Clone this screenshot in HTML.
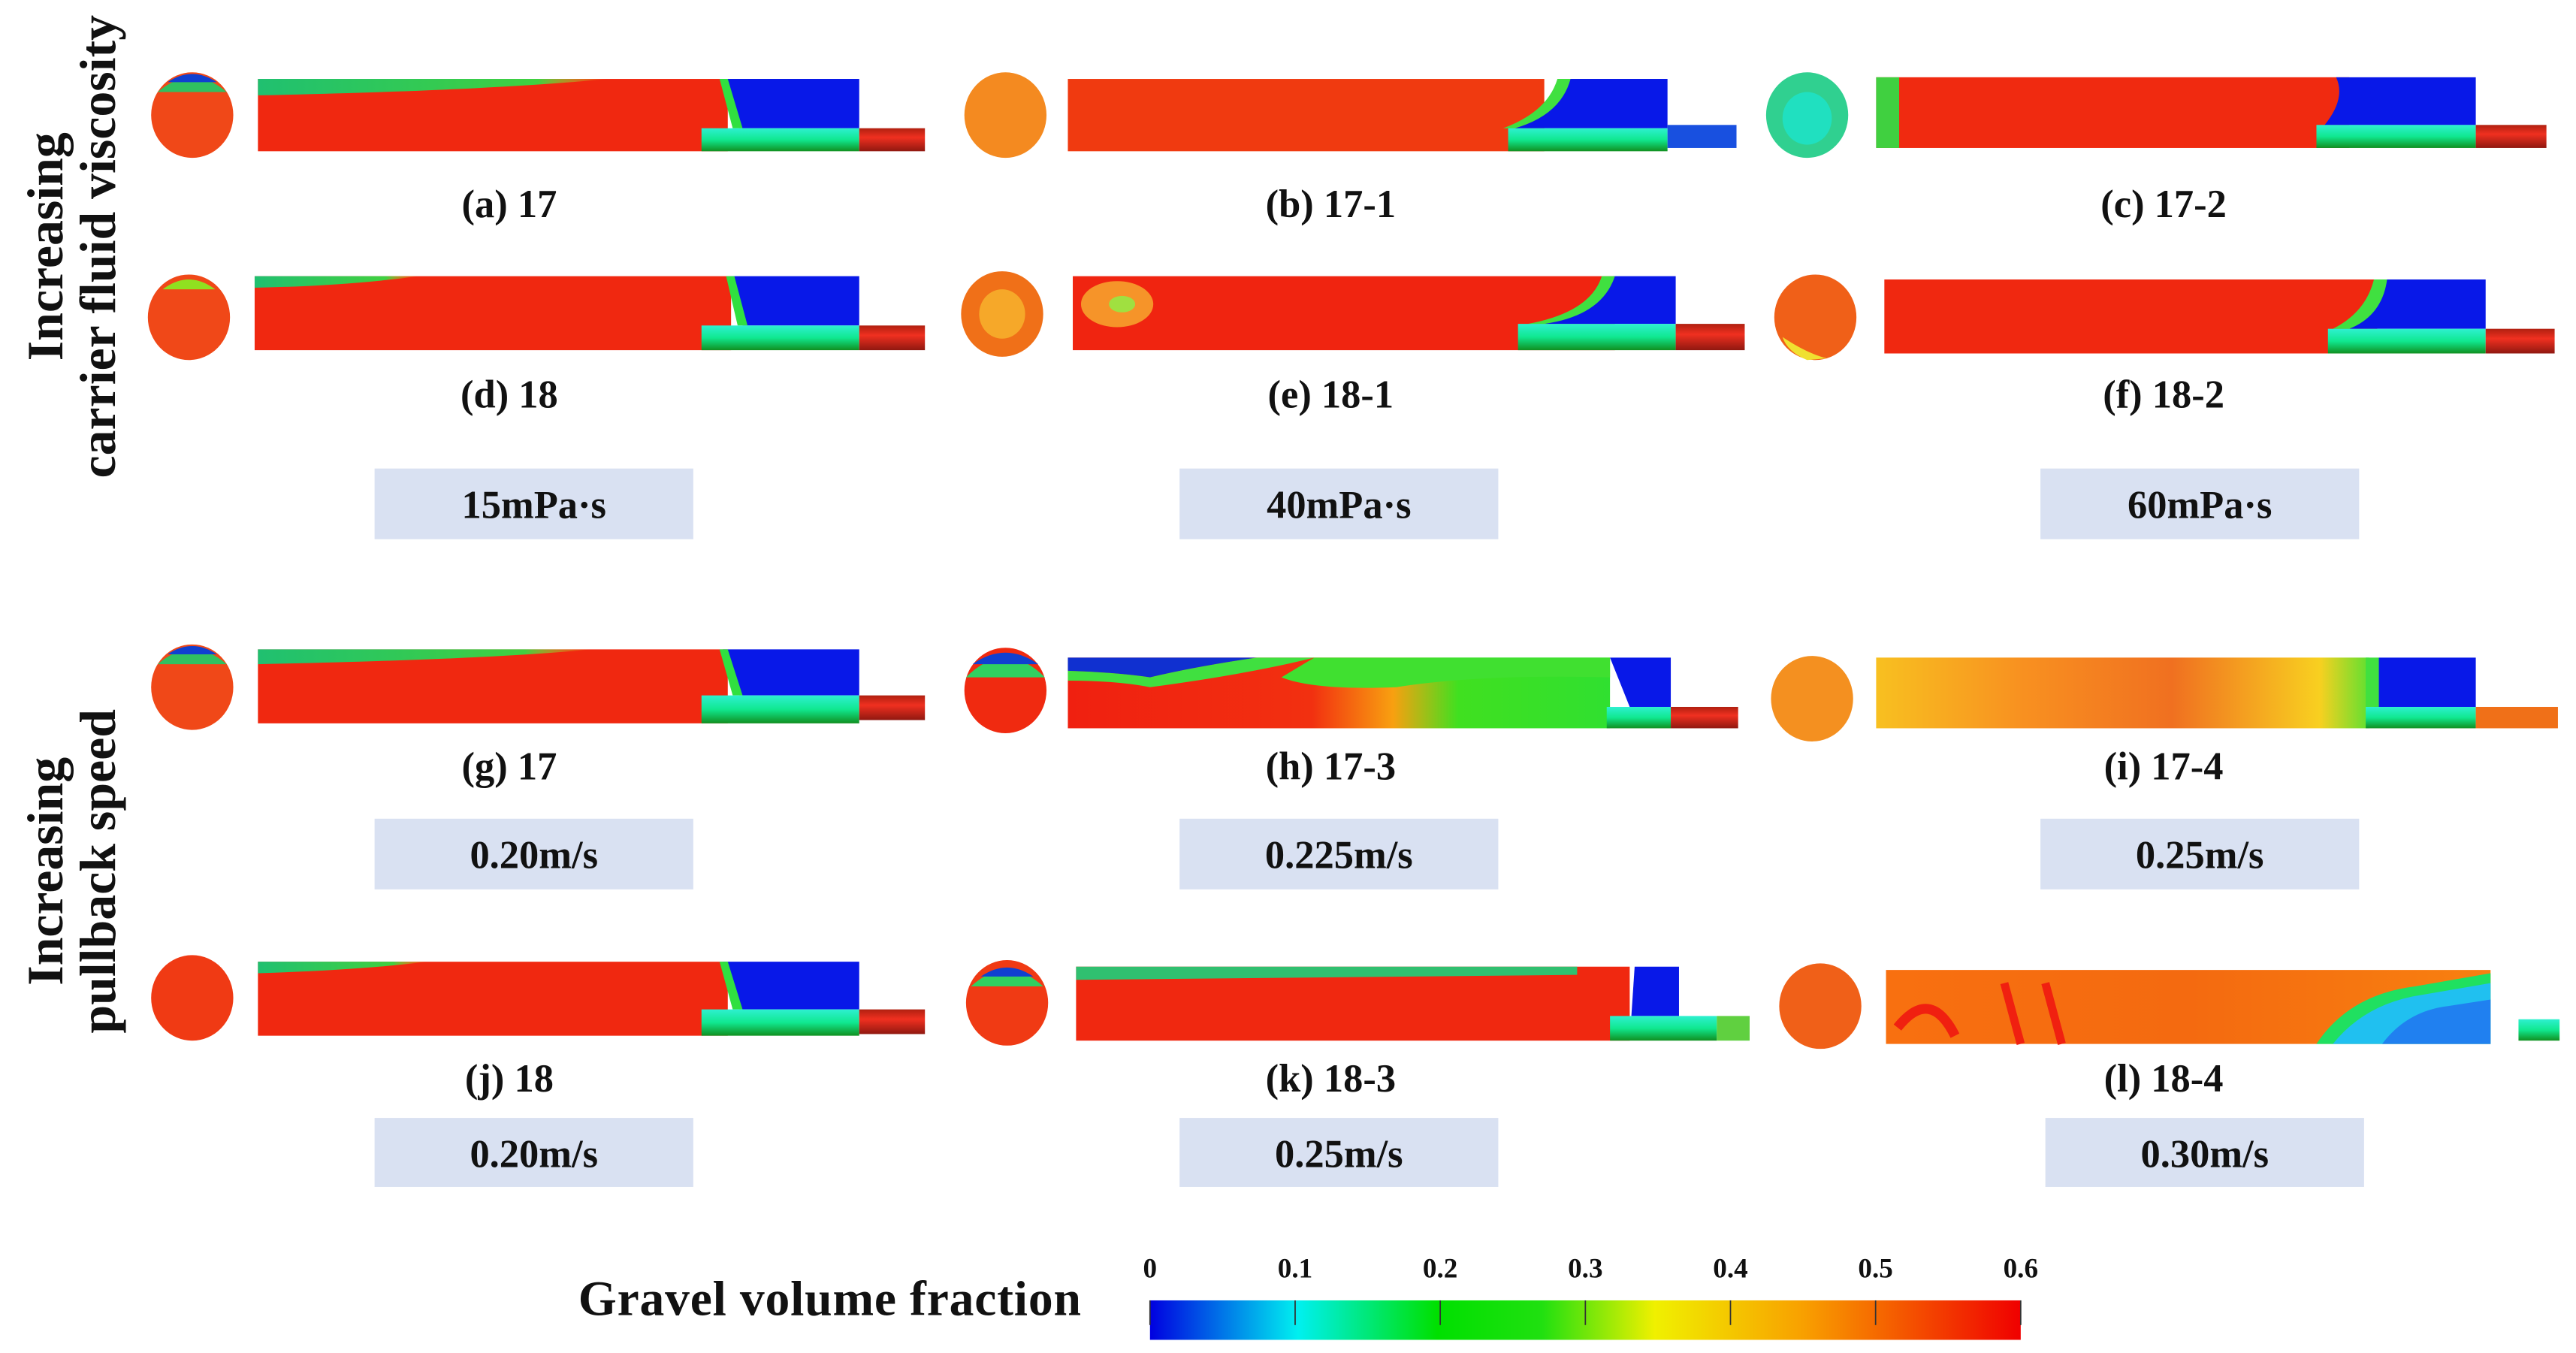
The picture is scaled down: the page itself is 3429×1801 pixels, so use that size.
<!DOCTYPE html>
<html><head><meta charset="utf-8"><style>
html,body{margin:0;padding:0;background:#fff}
svg{display:block}
.lbl{font-family:"Liberation Serif",serif;font-weight:bold;font-size:24px;fill:#111}
.box{fill:#d9e1f2}
.side{font-family:"Liberation Serif",serif;font-weight:bold;font-size:31px;fill:#111}
</style></head><body>
<svg id="fig" width="3429" height="1801" viewBox="0 0 1568 823" preserveAspectRatio="none">
<defs>
<linearGradient id="band" x1="0" y1="0" x2="0" y2="1"><stop offset="0" stop-color="#2ef0d0"/><stop offset="0.5" stop-color="#10e890"/><stop offset="1" stop-color="#109020"/></linearGradient>
<linearGradient id="tube" x1="0" y1="0" x2="0" y2="1"><stop offset="0" stop-color="#b02010"/><stop offset="0.4" stop-color="#f03020"/><stop offset="1" stop-color="#901810"/></linearGradient>
<linearGradient id="topstreak" x1="0" y1="0" x2="1" y2="0"><stop offset="0" stop-color="#20c070"/><stop offset="0.8" stop-color="#40d040"/><stop offset="1" stop-color="#f0e020" stop-opacity="0"/></linearGradient>
<linearGradient id="orng" x1="0" y1="0" x2="1" y2="0"><stop offset="0" stop-color="#f87010"/><stop offset="0.5" stop-color="#f46a10"/><stop offset="1" stop-color="#f88010"/></linearGradient>
<linearGradient id="hgrad" x1="0" y1="0" x2="1" y2="0"><stop offset="0" stop-color="#f02010"/><stop offset="0.45" stop-color="#f23010"/><stop offset="0.6" stop-color="#f8a010"/><stop offset="0.72" stop-color="#40e020"/><stop offset="1" stop-color="#30e030"/></linearGradient>
<linearGradient id="igrad" x1="0" y1="0" x2="1" y2="0"><stop offset="0" stop-color="#f8c020"/><stop offset="0.3" stop-color="#f89020"/><stop offset="0.6" stop-color="#f07020"/><stop offset="0.9" stop-color="#f8d020"/><stop offset="1" stop-color="#60e030"/></linearGradient>
<radialGradient id="lblue" cx="1" cy="1" r="0.7" gradientTransform="scale(1,1.6) translate(0,-0.37)"><stop offset="0" stop-color="#2070f0"/><stop offset="0.55" stop-color="#20a0f0"/><stop offset="0.72" stop-color="#20e060"/><stop offset="0.8" stop-color="#f0e020" stop-opacity="0.6"/><stop offset="0.86" stop-color="#f88010" stop-opacity="0"/></radialGradient>
<linearGradient id="cbar" x1="0" y1="0" x2="1" y2="0">
<stop offset="0" stop-color="#0000e0"/><stop offset="0.17" stop-color="#00f0f0"/><stop offset="0.33" stop-color="#00e000"/><stop offset="0.45" stop-color="#20e010"/><stop offset="0.58" stop-color="#f0f000"/><stop offset="0.75" stop-color="#f8a000"/><stop offset="1" stop-color="#f00000"/></linearGradient>
</defs>

<text class="side" transform="translate(38,150) rotate(-90)" text-anchor="middle">Increasing</text>
<text class="side" transform="translate(70,150) rotate(-90)" text-anchor="middle">carrier fluid viscosity</text>
<text class="side" transform="translate(38,530) rotate(-90)" text-anchor="middle">Increasing</text>
<text class="side" transform="translate(70,530) rotate(-90)" text-anchor="middle">pullback speed</text>

<!-- a -->
<g>
<ellipse cx="117" cy="70" rx="25" ry="26" fill="#f04818"/><path d="M96,56 Q117,38 138,56 Z" fill="#30c060"/><path d="M102,50 Q117,40 132,50 Z" fill="#1040d0"/>
<rect x="157" y="48" width="286" height="44" fill="#f02810"/><path d="M157,48 L370,48 Q300,55 157,58 Z" fill="url(#topstreak)"/>
<path d="M440,48 L523,48 L523,78 L450,78 Z" fill="#0818e8"/><path d="M438,48 L443,48 L452,78 L446,78 Z" fill="#30e040"/>
<rect x="427" y="78" width="96" height="14" fill="url(#band)"/><rect x="523" y="78" width="40" height="14" fill="url(#tube)"/>
<text class="lbl" x="310" y="132" text-anchor="middle">(a) 17</text></g>
<!-- b -->
<g>
<ellipse cx="612" cy="70" rx="25" ry="26" fill="#f48a20"/>
<rect x="650" y="48" width="290" height="44" fill="#f03a10"/>
<path d="M940,48 L1015,48 L1015,78 L922,78 Q950,70 955,48 Z" fill="#0818e8"/><path d="M948,48 L956,48 Q950,70 922,78 L915,78 Q942,68 948,48 Z" fill="#40e040"/>
<rect x="918" y="78" width="97" height="14" fill="url(#band)"/><rect x="1015" y="76" width="42" height="14" fill="#1850e0"/>
<text class="lbl" x="810" y="132" text-anchor="middle">(b) 17-1</text></g>
<!-- c -->
<g>
<ellipse cx="1100" cy="70" rx="25" ry="26" fill="#30d090"/><ellipse cx="1100" cy="72" rx="15" ry="16" fill="#20e0c0"/>
<rect x="1142" y="47" width="288" height="43" fill="#f02a10"/><rect x="1142" y="47" width="14" height="43" fill="#40d040"/>
<path d="M1422,47 L1507,47 L1507,76 L1415,76 Q1428,60 1422,47 Z" fill="#0818e8"/>
<rect x="1410" y="76" width="97" height="14" fill="url(#band)"/><rect x="1507" y="76" width="43" height="14" fill="url(#tube)"/>
<text class="lbl" x="1317" y="132" text-anchor="middle">(c) 17-2</text></g>
<!-- d -->
<g>
<ellipse cx="115" cy="193" rx="25" ry="26" fill="#f04818"/><path d="M99,176 Q115,164 131,176 Z" fill="#90e020"/>
<rect x="155" y="168" width="290" height="45" fill="#f02810"/><path d="M155,168 L255,168 Q210,174 155,175 Z" fill="url(#topstreak)"/>
<path d="M445,168 L523,168 L523,198 L452,198 Z" fill="#0818e8"/><path d="M442,168 L447,168 L455,198 L449,198 Z" fill="#30e040"/>
<rect x="427" y="198" width="96" height="15" fill="url(#band)"/><rect x="523" y="198" width="40" height="15" fill="url(#tube)"/>
<text class="lbl" x="310" y="248" text-anchor="middle">(d) 18</text></g>
<!-- e -->
<g>
<ellipse cx="610" cy="191" rx="25" ry="26" fill="#f07018"/><ellipse cx="610" cy="191" rx="14" ry="15" fill="#f8c030" opacity="0.7"/>
<rect x="653" y="168" width="330" height="45" fill="#f02410"/><ellipse cx="680" cy="185" rx="22" ry="14" fill="#f8b030" opacity="0.8"/><ellipse cx="683" cy="185" rx="8" ry="5" fill="#a0e040"/>
<path d="M982,168 L1020,168 L1020,197 L940,197 Q975,190 982,168 Z" fill="#0818e8"/><path d="M975,168 L983,168 Q975,192 940,197 L930,197 Q968,190 975,168 Z" fill="#40e040"/>
<rect x="924" y="197" width="96" height="16" fill="url(#band)"/><rect x="1020" y="197" width="42" height="16" fill="url(#tube)"/>
<text class="lbl" x="810" y="248" text-anchor="middle">(e) 18-1</text></g>
<!-- f -->
<g>
<ellipse cx="1105" cy="193" rx="25" ry="26" fill="#f06018"/><path d="M1085,205 Q1100,215 1112,218 L1100,219 Q1088,214 1085,205 Z" fill="#f0e030"/>
<rect x="1147" y="170" width="300" height="45" fill="#f02810"/>
<path d="M1452,170 L1513,170 L1513,200 L1430,200 Q1450,190 1452,170 Z" fill="#0818e8"/><path d="M1445,170 L1453,170 Q1450,192 1430,200 L1420,200 Q1440,190 1445,170 Z" fill="#40e040"/>
<rect x="1417" y="200" width="96" height="15" fill="url(#band)"/><rect x="1513" y="200" width="42" height="15" fill="url(#tube)"/>
<text class="lbl" x="1317" y="248" text-anchor="middle">(f) 18-2</text></g>

<g><rect class="box" x="228" y="285" width="194" height="43"/><text class="lbl" x="325" y="315" text-anchor="middle">15mPa·s</text></g>
<g><rect class="box" x="718" y="285" width="194" height="43"/><text class="lbl" x="815" y="315" text-anchor="middle">40mPa·s</text></g>
<g><rect class="box" x="1242" y="285" width="194" height="43"/><text class="lbl" x="1339" y="315" text-anchor="middle">60mPa·s</text></g>

<!-- g -->
<g>
<ellipse cx="117" cy="418" rx="25" ry="26" fill="#f04818"/><path d="M96,404 Q117,386 138,404 Z" fill="#30c060"/><path d="M102,398 Q117,388 132,398 Z" fill="#1040d0"/>
<rect x="157" y="395" width="286" height="45" fill="#f02810"/><path d="M157,395 L360,395 Q300,401 157,404 Z" fill="url(#topstreak)"/>
<path d="M440,395 L523,395 L523,423 L450,423 Z" fill="#0818e8"/><path d="M438,395 L443,395 L452,423 L446,423 Z" fill="#30e040"/>
<rect x="427" y="423" width="96" height="17" fill="url(#band)"/><rect x="523" y="423" width="40" height="15" fill="url(#tube)"/>
<text class="lbl" x="310" y="474" text-anchor="middle">(g) 17</text></g>
<!-- h -->
<g>
<ellipse cx="612" cy="420" rx="25" ry="26" fill="#f02a10"/><path d="M588,412 Q612,388 636,412 Z" fill="#30d060"/><path d="M592,404 Q612,390 632,404 Z" fill="#1040d0"/>
<rect x="650" y="400" width="330" height="43" fill="url(#hgrad)"/>
<path d="M650,400 L765,400 Q730,405 700,412 Q680,409 650,408 Z" fill="#1030d0"/>
<path d="M650,408 Q680,409 700,412 Q730,405 765,400 L800,400 Q760,410 700,418 Q680,414 650,414 Z" fill="#40e040"/>
<path d="M800,400 L980,400 L980,412 Q900,410 850,418 Q800,420 780,412 Z" fill="#40e030"/>
<path d="M980,400 L1017,400 L1017,430 L992,430 Z" fill="#0818e8"/>
<rect x="978" y="430" width="39" height="13" fill="url(#band)"/><rect x="1017" y="430" width="41" height="13" fill="url(#tube)"/>
<text class="lbl" x="810" y="474" text-anchor="middle">(h) 17-3</text></g>
<!-- i -->
<g>
<ellipse cx="1103" cy="425" rx="25" ry="26" fill="#f49020"/>
<rect x="1142" y="400" width="300" height="43" fill="url(#igrad)"/>
<path d="M1448,400 L1507,400 L1507,430 L1445,430 Z" fill="#0818e8"/><rect x="1440" y="400" width="8" height="30" fill="#40e040"/>
<rect x="1440" y="430" width="67" height="13" fill="url(#band)"/><rect x="1507" y="430" width="50" height="13" fill="#f07018"/>
<text class="lbl" x="1317" y="474" text-anchor="middle">(i) 17-4</text></g>

<g><rect class="box" x="228" y="498" width="194" height="43"/><text class="lbl" x="325" y="528" text-anchor="middle">0.20m/s</text></g>
<g><rect class="box" x="718" y="498" width="194" height="43"/><text class="lbl" x="815" y="528" text-anchor="middle">0.225m/s</text></g>
<g><rect class="box" x="1242" y="498" width="194" height="43"/><text class="lbl" x="1339" y="528" text-anchor="middle">0.25m/s</text></g>

<!-- j -->
<g>
<ellipse cx="117" cy="607" rx="25" ry="26" fill="#f03a14"/>
<rect x="157" y="585" width="286" height="45" fill="#f02810"/><path d="M157,585 L260,585 Q220,590 157,592 Z" fill="url(#topstreak)"/>
<path d="M440,585 L523,585 L523,614 L450,614 Z" fill="#0818e8"/><path d="M438,585 L443,585 L452,614 L446,614 Z" fill="#30e040"/>
<rect x="427" y="614" width="96" height="16" fill="url(#band)"/><rect x="523" y="614" width="40" height="15" fill="url(#tube)"/>
<text class="lbl" x="310" y="664" text-anchor="middle">(j) 18</text></g>
<!-- k -->
<g>
<ellipse cx="613" cy="610" rx="25" ry="26" fill="#f03a14"/><path d="M591,600 Q613,580 635,600 Z" fill="#30d060"/><path d="M597,594 Q613,583 629,594 Z" fill="#1040d0"/>
<rect x="655" y="588" width="337" height="45" fill="#f02810"/><path d="M655,588 L960,588 L960,593 L655,596 Z" fill="#30c070"/>
<path d="M995,588 L1022,588 L1022,618 L993,618 Z" fill="#0818e8"/>
<rect x="980" y="618" width="65" height="15" fill="url(#band)"/><rect x="1045" y="618" width="20" height="15" fill="#60d040"/>
<text class="lbl" x="810" y="664" text-anchor="middle">(k) 18-3</text></g>
<!-- l -->
<g>
<ellipse cx="1108" cy="612" rx="25" ry="26" fill="#f06018"/>
<rect x="1148" y="590" width="368" height="45" fill="url(#orng)"/>
<path d="M1410,635 Q1430,605 1470,600 L1516,592 L1516,635 Z" fill="#20e060"/>
<path d="M1420,635 Q1440,610 1475,605 L1516,598 L1516,635 Z" fill="#20c0f0"/>
<path d="M1450,635 Q1465,615 1490,612 L1516,608 L1516,635 Z" fill="#2080f0"/>
<path d="M1155,625 Q1175,600 1190,630" stroke="#f02010" stroke-width="6" fill="none"/><path d="M1220,598 L1230,635" stroke="#f02010" stroke-width="5" fill="none"/><path d="M1245,598 L1255,635" stroke="#f02010" stroke-width="5" fill="none"/>
<rect x="1533" y="620" width="25" height="13" fill="url(#band)"/>
<text class="lbl" x="1317" y="664" text-anchor="middle">(l) 18-4</text></g>

<g><rect class="box" x="228" y="680" width="194" height="42"/><text class="lbl" x="325" y="710" text-anchor="middle">0.20m/s</text></g>
<g><rect class="box" x="718" y="680" width="194" height="42"/><text class="lbl" x="815" y="710" text-anchor="middle">0.25m/s</text></g>
<g><rect class="box" x="1245" y="680" width="194" height="42"/><text class="lbl" x="1342" y="710" text-anchor="middle">0.30m/s</text></g>

<text class="lbl" x="352" y="800" style="font-size:30px" textLength="306">Gravel volume fraction</text>
<rect x="700" y="791" width="530" height="24" fill="url(#cbar)"/>
<g id="ticks"></g>
</svg>
<script>
const tickValues = [0, 0.1, 0.2, 0.3, 0.4, 0.5, 0.6];
const tickLabels = ["0", "0.1", "0.2", "0.3", "0.4", "0.5", "0.6"];
const vMin = 0, vMax = 0.6, x0 = 700, x1 = 1230;
function xScale(v){ return x0 + (v - vMin) / (vMax - vMin) * (x1 - x0); }
const g = document.getElementById('ticks');
const NS = 'http://www.w3.org/2000/svg';
tickValues.forEach((v, i) => {
  const x = xScale(v);
  const ln = document.createElementNS(NS, 'line');
  ln.setAttribute('x1', x); ln.setAttribute('x2', x);
  ln.setAttribute('y1', 791); ln.setAttribute('y2', 806);
  ln.setAttribute('stroke', '#333'); ln.setAttribute('stroke-width', '0.8');
  
  
  g.appendChild(ln);
  const t = document.createElementNS(NS, 'text');
  t.setAttribute('x', x); t.setAttribute('y', 777);
  t.setAttribute('text-anchor', 'middle');
  t.setAttribute('style', 'font-family:"Liberation Serif",serif;font-weight:bold;font-size:17px;fill:#111');
  t.textContent = tickLabels[i];
  
  
  g.appendChild(t);
});
</script>
</body></html>
